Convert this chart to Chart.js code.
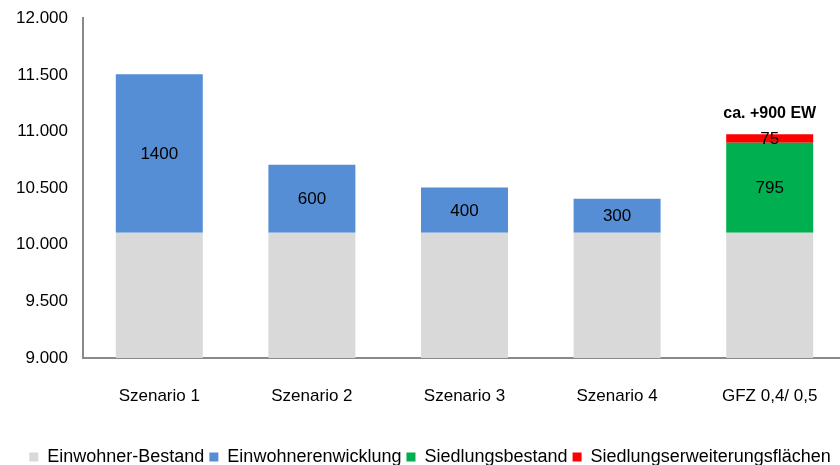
<!DOCTYPE html>
<html>
<head>
<meta charset="utf-8">
<script src="https://cdn.jsdelivr.net/npm/chart.js@4"></script>
<style>
  html, body { margin: 0; padding: 0; background: #fff; overflow: hidden; }
  #wrap { width: 866px; height: 483px; margin-top: -7px; }
</style>
</head>
<body>
<div id="wrap"><canvas id="chart"></canvas></div>
<script>
'use strict';

const categories = ['Szenario 1', 'Szenario 2', 'Szenario 3', 'Szenario 4', 'GFZ 0,4/ 0,5'];
const bestand = [10106, 10106, 10106, 10106, 10106];
const entwicklung = [1400, 600, 400, 300, null];
const siedlungsbestand = [null, null, null, null, 795];
const erweiterung = [null, null, null, null, 75];
const note = 'ca. +900 EW';
const noteIndex = 4;

const fontFamily = '"Liberation Sans", Arial, sans-serif';

// values written into the middle of each bar segment
const barValues = {
    id: 'barValues',
    afterDatasetsDraw(chart) {
        const ctx = chart.ctx;
        ctx.save();
        ctx.font = '17px ' + fontFamily;
        ctx.fillStyle = '#000';
        ctx.textAlign = 'center';
        ctx.textBaseline = 'middle';
        chart.data.datasets.forEach(function (ds, di) {
            const meta = chart.getDatasetMeta(di);
            meta.data.forEach(function (bar, i) {
                const v = ds.data[i];
                if (v === null || v === undefined) return;
                const yMid = (bar.y + bar.base) / 2;
                const text = di === 0 ? v.toLocaleString('de-DE') : String(v);
                ctx.fillText(text, bar.x, yMid + 1);
            });
        });

        // note above the last stack
        const last = chart.getDatasetMeta(chart.data.datasets.length - 1).data[noteIndex];
        ctx.font = 'bold 16px ' + fontFamily;
        ctx.fillText(note, last.x, last.y - 21);
        ctx.restore();
    }
};

new Chart(document.getElementById('chart'), {
    type: 'bar',
    data: {
        labels: categories,
        datasets: [
            { label: 'Einwohner-Bestand', data: bestand, backgroundColor: '#D9D9D9' },
            { label: 'Einwohnerenwicklung', data: entwicklung, backgroundColor: '#558ED5' },
            { label: 'Siedlungsbestand', data: siedlungsbestand, backgroundColor: '#00B050' },
            { label: 'Siedlungserweiterungsflächen', data: erweiterung, backgroundColor: '#FF0000' }
        ]
    },
    options: {
        responsive: true,
        maintainAspectRatio: false,
        animation: false,
        datasets: {
            bar: {
                categoryPercentage: 1,
                barPercentage: 0.57,
                borderWidth: 0
            }
        },
        layout: {
            padding: { left: 14, right: 20, top: 0, bottom: 0 }
        },
        scales: {
            x: {
                stacked: true,
                grid: { display: false, drawTicks: false },
                border: { color: '#898989', width: 2 },
                ticks: {
                    color: '#000',
                    padding: 28,
                    font: { family: fontFamily, size: 17 }
                },
                afterFit: function (scale) {
                    scale.height = 85;
                }
            },
            y: {
                stacked: true,
                min: 9000,
                max: 12000,
                grid: { display: false, drawTicks: false },
                border: { color: '#898989', width: 2 },
                ticks: {
                    stepSize: 500,
                    color: '#000',
                    padding: 15,
                    font: { family: fontFamily, size: 17 },
                    callback: function (value) {
                        return value.toLocaleString('de-DE');
                    }
                },
                afterFit: function (scale) {
                    scale.width = 69;
                }
            }
        },
        plugins: {
            tooltip: { enabled: false },
            legend: {
                position: 'bottom',
                labels: {
                    color: '#000',
                    boxWidth: 9,
                    boxHeight: 9,
                    padding: 5,
                    font: { family: fontFamily, size: 18 }
                }
            }
        }
    },
    plugins: [barValues]
});
</script>
</body>
</html>
